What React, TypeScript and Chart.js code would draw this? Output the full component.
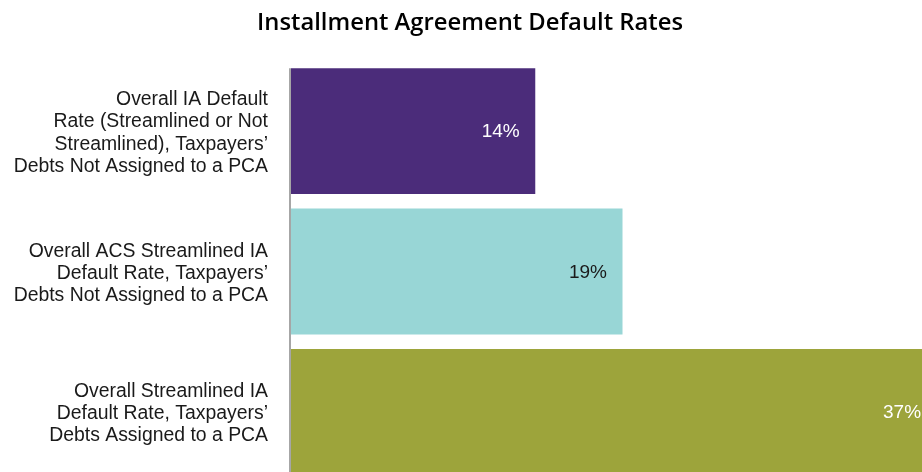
import React, { useEffect, useRef } from "react";
import { Chart, registerables } from "chart.js";

Chart.register(...registerables);

const chartTitle = "Installment Agreement Default Rates";
const categories: string[][] = [
  ["Overall IA Default", "Rate (Streamlined or Not", "Streamlined), Taxpayers’", "Debts Not Assigned to a PCA"],
  ["Overall ACS Streamlined IA", "Default Rate, Taxpayers’", "Debts Not Assigned to a PCA"],
  ["Overall Streamlined IA", "Default Rate, Taxpayers’", "Debts Assigned to a PCA"],
];
const values = [14, 19, 37];
const valueLabels = ["14%", "19%", "37%"];
const barColors = ["#4B2C7A", "#98D6D6", "#9DA43B"];
const labelColors = ["#ffffff", "#1a1a1a", "#ffffff"];

const FONT = "'Liberation Sans', Arial, sans-serif";

const extrasPlugin = {
  id: "extras",
  beforeDatasetsDraw(chart: any) {
    const { ctx, chartArea } = chart;
    const meta = chart.getDatasetMeta(0);
    const first = meta.data[0];
    const top = first.y - first.height / 2;
    ctx.save();
    ctx.strokeStyle = "#A6A6A6";
    ctx.lineWidth = 2;
    ctx.beginPath();
    ctx.moveTo(chartArea.left - 1, top);
    ctx.lineTo(chartArea.left - 1, chartArea.bottom);
    ctx.stroke();
    ctx.restore();
  },
  afterDatasetsDraw(chart: any) {
    const { ctx } = chart;
    const meta = chart.getDatasetMeta(0);
    ctx.save();
    ctx.font = `19px ${FONT}`;
    ctx.textAlign = "right";
    ctx.textBaseline = "middle";
    meta.data.forEach((bar: any, i: number) => {
      ctx.fillStyle = labelColors[i];
      ctx.fillText(valueLabels[i], bar.x - 15.5, bar.y + 1);
    });
    ctx.restore();
  },
  afterDraw(chart: any) {
    const { ctx } = chart;
    ctx.save();
    ctx.font = `600 23.8px 'Open Sans', ${FONT}`;
    ctx.fillStyle = "#000000";
    ctx.textAlign = "center";
    ctx.textBaseline = "alphabetic";
    ctx.fillText(chartTitle, 470, 30);
    ctx.restore();
  },
};

export default function App() {
  const canvasRef = useRef<HTMLCanvasElement | null>(null);

  useEffect(() => {
    if (!canvasRef.current) return;
    const chart = new Chart(canvasRef.current, {
      type: "bar",
      data: {
        labels: categories,
        datasets: [
          {
            data: values,
            backgroundColor: barColors,
            borderWidth: 0,
            categoryPercentage: 1,
            barPercentage: 0.897,
          },
        ],
      },
      options: {
        indexAxis: "y",
        animation: false,
        responsive: true,
        maintainAspectRatio: false,
        devicePixelRatio: 1,
        layout: { padding: { top: 61, bottom: 8, left: 0, right: 6 } },
        plugins: {
          legend: { display: false },
          title: { display: false },
          tooltip: { enabled: false },
        },
        scales: {
          x: {
            display: false,
            min: 0,
            max: 38,
          },
          y: {
            grid: { display: false },
            border: { display: false },
            afterFit: (scale: any) => {
              scale.width = 291;
              scale.paddingTop = 0;
              scale.paddingBottom = 0;
            },
            ticks: {
              padding: 15,
              labelOffset: 2,
              color: "#1a1a1a",
              font: { family: FONT, size: 19.4, lineHeight: 1.15 },
            },
          },
        },
      },
      plugins: [extrasPlugin],
    });
    return () => chart.destroy();
  }, []);

  return (
    <div
      style={{
        position: "fixed",
        left: 0,
        top: 0,
        width: 922,
        height: 472,
        overflow: "hidden",
        background: "#ffffff",
      }}
    >
      <div style={{ position: "relative", width: 960, height: 490 }}>
        <canvas ref={canvasRef} />
      </div>
    </div>
  );
}
